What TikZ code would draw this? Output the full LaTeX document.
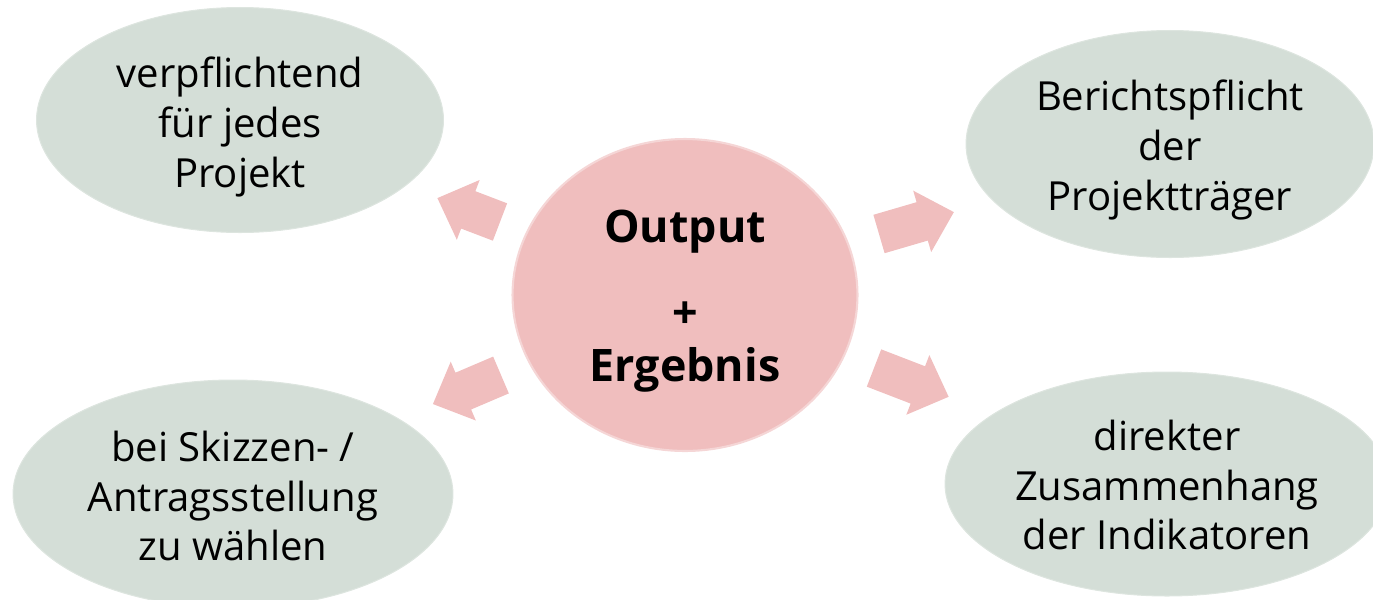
\documentclass[tikz,border=0pt]{standalone}
\usepackage{fontspec}
\setmainfont{Open Sans}
\usepackage{xcolor}
\usetikzlibrary{shapes.geometric}

\definecolor{ovalgreen}{HTML}{D4DED7}
\definecolor{ovalline}{HTML}{DDE5DF}
\definecolor{corepink}{HTML}{F0BEBE}
\definecolor{coreline}{HTML}{F5D6D6}

\tikzset{
  pics/blockarrow/.style={code={
    \fill[corepink] (0,-20) -- ({#1-33},-20) -- ({#1-33},-32) -- (#1,0)
                    -- ({#1-33},32) -- ({#1-33},20) -- (0,20) -- cycle;
  }}
}

\begin{document}
\begin{tikzpicture}[x=0.02cm, y=-0.02cm,
    oval/.style={ellipse, fill=ovalgreen, draw=ovalline, line width=0.6pt,
                 inner sep=0pt},
    ovaltext/.style={inner sep=0pt, align=center,
                 font=\fontsize{22.8}{28.4}\selectfont},
    core/.style={ellipse, fill=corepink, draw=coreline, line width=1.2pt,
                 inner sep=0pt},
    coretext/.style={inner sep=0pt, align=center,
                 font=\fontsize{25.5}{33}\selectfont\bfseries}]
                \useasboundingbox (0,0) rectangle (1373,599);
                \clip (0,0) rectangle (1373,599);

                %% ovals
                \node[oval, minimum width=8.14cm, minimum height=4.5cm]  (duty)   at (240,120)  {};
                \node[oval, minimum width=8.16cm, minimum height=4.54cm] (report) at (1170,144) {};
                \node[oval, minimum width=8.8cm,  minimum height=4.56cm] (choice) at (233,494)  {};
                \node[oval, minimum width=8.88cm, minimum height=4.48cm] (link)   at (1167,484) {};

                \node[ovaltext] (dutytext)   at (240,127)  {verpflichtend\\für jedes\\Projekt};
                \node[ovaltext] (reporttext) at (1170,150) {Berichtspflicht\\der\\Projektträger};
                \node[ovaltext] (choicetext) at (233,496)  {bei Skizzen- /\\Antragsstellung\\zu wählen};
                \node[ovaltext] (linktext)   at (1167,485) {direkter\\Zusammenhang\\der Indikatoren};

                %% centre
                \node[core, minimum width=6.9cm, minimum height=6.24cm] (result) at (685,295) {};
                \node[coretext] (resulttext) at (685,301) {Output\\[16pt]+\\[-3pt]Ergebnis};

                %% arrows
                \pic (toduty)   [rotate=159.1] at (500,222) {blockarrow=67};
                \pic (toreport) [rotate=16.3]  at (879,234) {blockarrow=78};
                \pic (tochoice) [rotate=203.1] at (501,375) {blockarrow=74};
                \pic (tolink)   [rotate=-21.1] at (874,368) {blockarrow=80};

\end{tikzpicture}
\end{document}
